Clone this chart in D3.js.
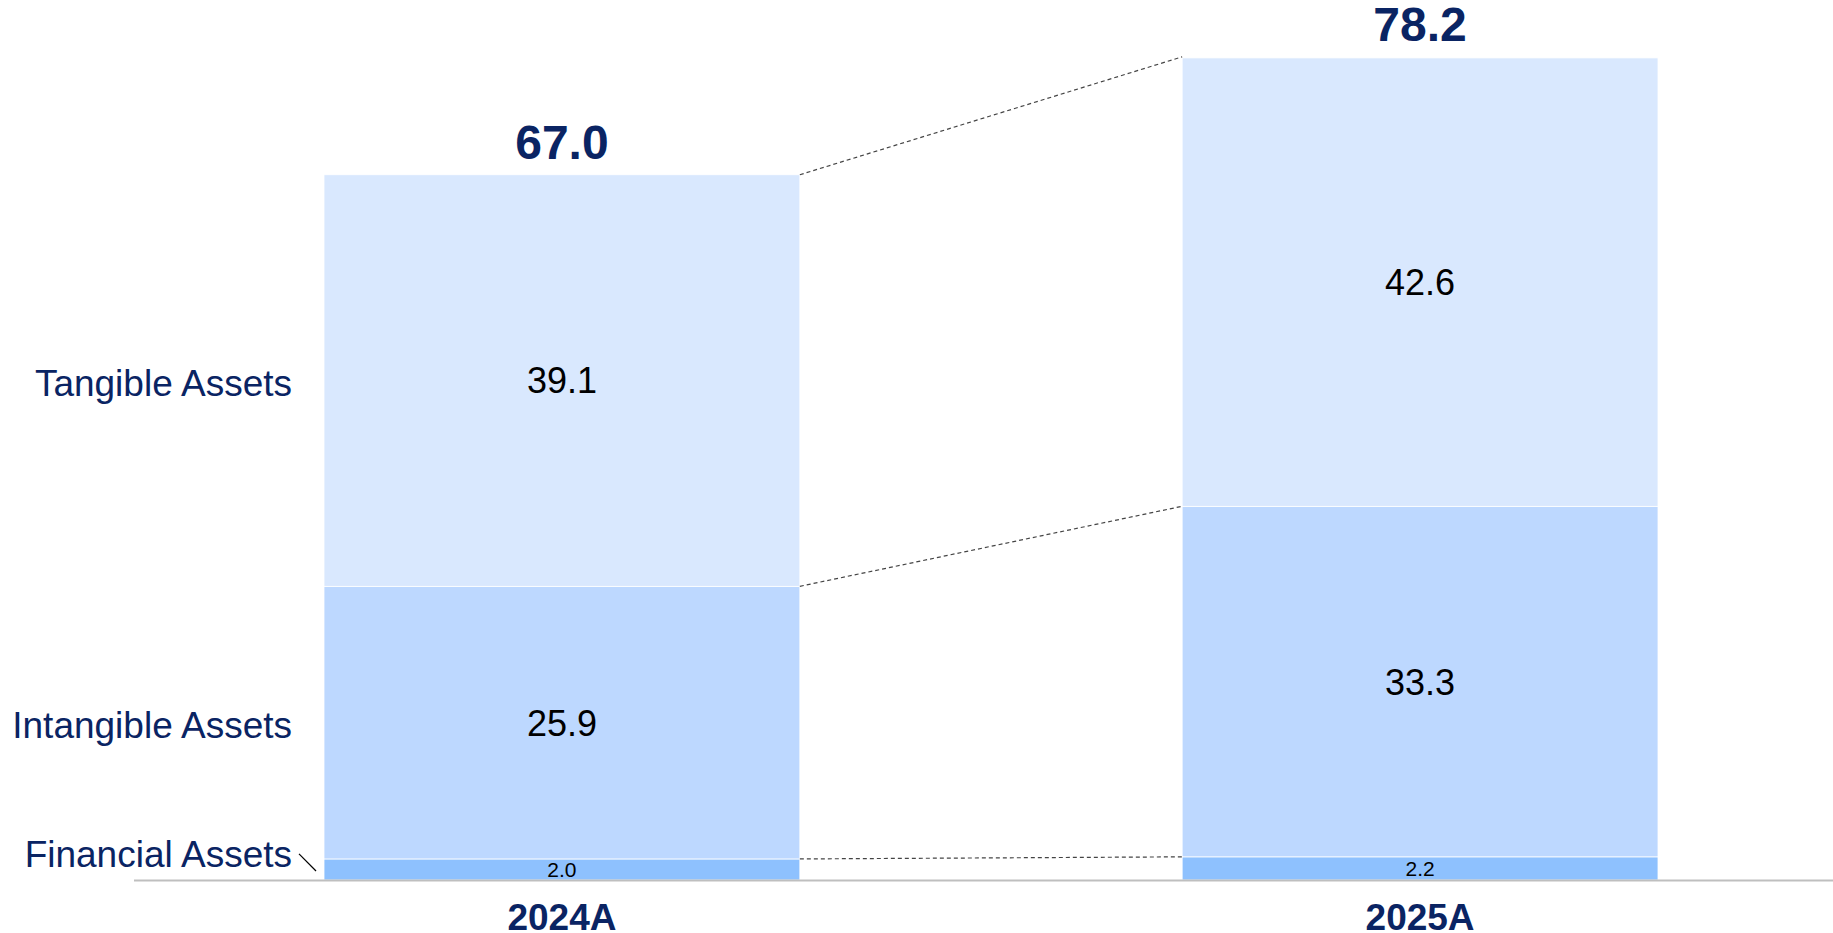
<!DOCTYPE html>
<html>
<head>
<meta charset="utf-8">
<script src="https://cdn.jsdelivr.net/npm/d3@7"></script>
<style>
  html, body { margin: 0; padding: 0; background: #fff; }
  svg { display: block; font-family: "Liberation Sans", Arial, sans-serif; }
</style>
</head>
<body>
<div id="chart"></div>
<script>
// values in bn
var years = ["2024A", "2025A"];
var seriesNames = ["Financial Assets", "Intangible Assets", "Tangible Assets"];
var financial = [2.0, 2.2];
var intangible = [25.9, 33.3];
var tangible = [39.1, 42.6];
var totals = [67.0, 78.2];

var colors = {
  "Financial Assets": "#8ec1fe",
  "Intangible Assets": "#bdd8ff",
  "Tangible Assets": "#d9e8fe"
};
var navy = "#0a2463";

var width = 1833,
    height = 933;

var rows = years.map(function(yr, i) {
  return {
    year: yr,
    "Financial Assets": financial[i],
    "Intangible Assets": intangible[i],
    "Tangible Assets": tangible[i],
    total: totals[i]
  };
});

var svg = d3.select("#chart").append("svg")
  .attr("width", width)
  .attr("height", height);

var x = d3.scaleBand()
  .domain(years)
  .range([324, 1658])
  .paddingInner(0.4455)
  .paddingOuter(0);

var y = d3.scaleLinear()
  .domain([0, 83.6])
  .range([880, 0]);

var stack = d3.stack().keys(seriesNames);
var layers = stack(rows);

// bars
var layerG = svg.selectAll("g.layer")
  .data(layers)
  .enter().append("g")
  .attr("class", "layer")
  .attr("fill", function(d) { return colors[d.key]; });

layerG.selectAll("rect")
  .data(function(d) { return d; })
  .enter().append("rect")
  .attr("x", function(d) { return x(d.data.year); })
  .attr("y", function(d) { return y(d[1]); })
  .attr("width", x.bandwidth())
  .attr("height", function(d) { return y(d[0]) - y(d[1]); })
  .attr("stroke", "#fff")
  .attr("stroke-width", 0.8);

// segment values
layers.forEach(function(layer) {
  var small = layer.key === "Financial Assets";
  svg.selectAll(null)
    .data(layer)
    .enter().append("text")
    .attr("x", function(d) { return x(d.data.year) + x.bandwidth() / 2; })
    .attr("y", function(d) { return (y(d[0]) + y(d[1])) / 2; })
    .attr("dy", "0.36em")
    .attr("text-anchor", "middle")
    .attr("font-size", small ? 21 : 36)
    .attr("fill", "#000")
    .text(function(d) { return (d[1] - d[0]).toFixed(1); });
});

// totals on top
svg.selectAll("text.total")
  .data(rows)
  .enter().append("text")
  .attr("class", "total")
  .attr("x", function(d) { return x(d.year) + x.bandwidth() / 2; })
  .attr("y", function(d) { return y(d.total) - 16; })
  .attr("text-anchor", "middle")
  .attr("font-size", 48)
  .attr("font-weight", "bold")
  .attr("fill", navy)
  .text(function(d) { return d.total.toFixed(1); });

// dashed connectors between the bars
var a = rows[0], b = rows[1];
var levels = [
  [a.total, b.total],
  [a["Financial Assets"] + a["Intangible Assets"], b["Financial Assets"] + b["Intangible Assets"]],
  [a["Financial Assets"], b["Financial Assets"]]
];
svg.selectAll("line.conn")
  .data(levels)
  .enter().append("line")
  .attr("class", "conn")
  .attr("x1", x(a.year) + x.bandwidth())
  .attr("x2", x(b.year))
  .attr("y1", function(d) { return y(d[0]); })
  .attr("y2", function(d) { return y(d[1]); })
  .attr("stroke", "#444")
  .attr("stroke-width", 1.2)
  .attr("stroke-dasharray", "4,3");

// baseline
svg.append("line")
  .attr("x1", 134)
  .attr("x2", width)
  .attr("y1", y(0) + 0.5)
  .attr("y2", y(0) + 0.5)
  .attr("stroke", "#bfbfbf")
  .attr("stroke-width", 2);

// category labels
var xAxis = d3.axisBottom(x).tickSize(0).tickPadding(0);
var axisG = svg.append("g")
  .attr("transform", "translate(0," + (y(0) + 24) + ")")
  .call(xAxis);
axisG.select(".domain").remove();
axisG.selectAll("text")
  .attr("font-family", "Liberation Sans, Arial, sans-serif")
  .attr("font-size", 37)
  .attr("font-weight", "bold")
  .attr("fill", navy);

// series labels on the left, next to the first bar
var first = layers.map(function(l) { return { key: l.key, d: l[0] }; });
var labelX = 292;
svg.selectAll("text.series")
  .data(first)
  .enter().append("text")
  .attr("class", "series")
  .attr("x", labelX)
  .attr("y", function(s) {
    if (s.key === "Financial Assets") return y(s.d[1]) - 5;
    return (y(s.d[0]) + y(s.d[1])) / 2 + 2;
  })
  .attr("dy", "0.36em")
  .attr("text-anchor", "end")
  .attr("font-size", 37)
  .attr("fill", navy)
  .text(function(s) { return s.key; });

// little leader for the thin financial slice
var fin = first[0].d;
svg.append("line")
  .attr("x1", 299)
  .attr("y1", y(fin[1]) - 5)
  .attr("x2", x(a.year) - 8)
  .attr("y2", y(0) - 9)
  .attr("stroke", "#000")
  .attr("stroke-width", 1.2);
</script>
</body>
</html>
